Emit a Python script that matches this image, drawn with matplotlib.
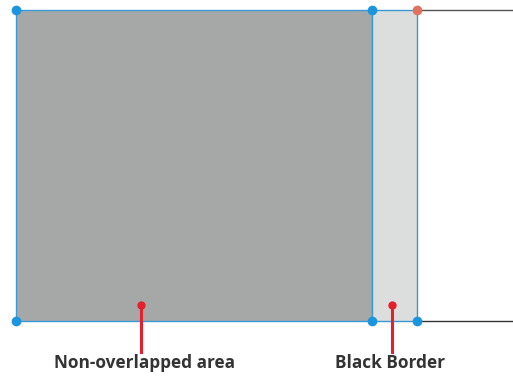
import matplotlib
matplotlib.use("Agg")
import matplotlib.pyplot as plt
from matplotlib.patches import Rectangle

# Diagram data (pixel space of the reference)
labels = ["Non-overlapped area", "Black Border"]
region_x = [16, 372, 417]          # left edges / right edge of regions
region_y = [10, 321]               # top, bottom
region_colors = ["#a6a8a8", "#dcdedd"]
label_x = [141, 392]
text_x = [144, 390]
line_end_x = 513

fig = plt.figure(figsize=(5.13, 3.76), dpi=100)
ax = fig.add_axes([0, 0, 1, 1])
ax.set_xlim(0, 513)
ax.set_ylim(376, 0)
ax.axis("off")

top, bot = region_y
blue = "#3a9ad6"
for i in range(2):
    x0, x1 = region_x[i], region_x[i + 1]
    ax.add_patch(Rectangle((x0, top), x1 - x0, bot - top, facecolor=region_colors[i],
                           edgecolor=blue, linewidth=1.0, zorder=2))

# black extension lines
ax.plot([region_x[2], line_end_x], [top, top], color="#555555", lw=1.0, zorder=1)
ax.plot([region_x[2], line_end_x], [bot, bot], color="#333333", lw=1.0, zorder=1)

# corner dots
dot_pts = [(region_x[0], top), (region_x[1], top), (region_x[0], bot),
           (region_x[1], bot), (region_x[2], bot)]
for (x, y) in dot_pts:
    ax.plot(x, y, "o", color="#1b95dd", ms=7, mec="none", zorder=5)
ax.plot(region_x[2], top, "o", color="#e0725f", ms=7, mec="none", zorder=5)

# label pointers
red = "#e3202c"
for lx, tx, lab in zip(label_x, text_x, labels):
    ax.plot([lx, lx], [305, 352], color=red, lw=2.2, zorder=4)
    ax.plot(lx, 305, "o", color=red, ms=6, mec="none", zorder=5)
    ax.text(tx, 363, lab, ha="center", va="center", fontsize=12.4,
            family="Open Sans", fontweight="bold", color="#333333")

fig.savefig("out.png", dpi=100)
